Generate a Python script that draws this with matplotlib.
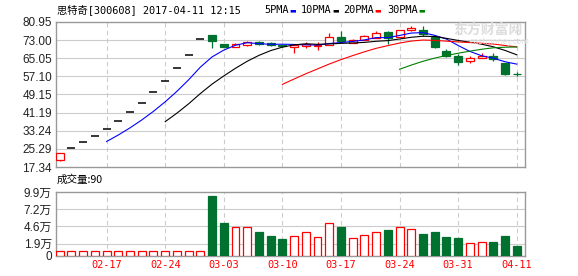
import numpy as np
import pandas as pd
from matplotlib import pyplot as plt

# trading days (2017)
days = ['02-13', '02-14', '02-15', '02-16', '02-17', '02-20', '02-21', '02-22', '02-23', '02-24',
        '02-27', '02-28', '03-01', '03-02', '03-03', '03-06', '03-07', '03-08', '03-09', '03-10',
        '03-13', '03-14', '03-15', '03-16', '03-17', '03-20', '03-21', '03-22', '03-23', '03-24',
        '03-27', '03-28', '03-29', '03-30', '03-31', '04-05', '04-06', '04-07', '04-10', '04-11']

opens = [20.20, 25.70, 28.27, 31.10, 34.21, 37.63, 41.39, 45.53, 50.08, 55.09,
         60.60, 66.66, 73.33, 75.40, 71.30, 70.00, 70.90, 72.20, 71.70, 71.00,
         70.10, 70.40, 70.45, 71.00, 74.20, 71.90, 73.20, 74.10, 76.60, 74.50,
         77.40, 77.40, 74.50, 68.40, 66.20, 63.95, 65.30, 65.90, 62.80, 58.20]
highs = [23.36, 25.70, 28.27, 31.10, 34.21, 37.63, 41.39, 45.53, 50.08, 55.09,
         60.60, 66.66, 73.33, 75.40, 71.50, 71.90, 72.75, 72.75, 72.10, 71.20,
         71.00, 72.05, 72.05, 76.00, 76.90, 73.60, 75.40, 77.10, 76.80, 77.60,
         79.30, 79.30, 74.90, 68.90, 66.90, 66.00, 67.20, 67.20, 62.80, 58.90]
lows = [19.90, 25.70, 28.27, 31.10, 34.21, 37.63, 41.39, 45.53, 50.08, 55.09,
        60.60, 66.66, 73.33, 69.55, 69.80, 70.00, 70.30, 71.00, 70.40, 70.10,
        67.30, 69.55, 68.70, 71.00, 72.05, 71.90, 73.20, 74.10, 71.30, 74.50,
        76.90, 74.90, 69.55, 65.60, 62.20, 62.80, 65.00, 64.00, 57.80, 57.40]
closes = [23.36, 25.70, 28.27, 31.10, 34.21, 37.63, 41.39, 45.53, 50.08, 55.09,
          60.60, 66.66, 73.33, 72.50, 70.00, 71.30, 72.20, 71.30, 71.00, 70.30,
          70.70, 71.30, 71.00, 74.20, 72.50, 73.05, 74.70, 76.10, 74.00, 77.40,
          78.30, 75.70, 70.10, 65.90, 63.30, 65.30, 66.20, 64.70, 58.10, 58.10]
volumes = [7500, 7500, 7500, 7500, 7500, 7500, 7500, 7500, 7500, 7500,
           7500, 7500, 7500, 92800, 51500, 44400, 44400, 37100, 31000, 26300,
           30400, 36700, 28900, 50600, 44900, 27300, 32000, 36700, 40200, 44400,
           41300, 34000, 37100, 29400, 27800, 19600, 21700, 21700, 31000, 15500]

tick_days = ['02-17', '02-24', '03-03', '03-10', '03-17', '03-24', '03-31', '04-11']
price_ticks = [17.34, 25.29, 33.24, 41.19, 49.15, 57.10, 65.05, 73.00, 80.95]
vol_ticks = [0, 19000, 46000, 72000, 99000]
vol_labels = ['0', '1.9万', '4.6万', '7.2万', '9.9万']
ma_names = ['5PMA', '10PMA', '20PMA', '30PMA']
ma_periods = [5, 10, 20, 30]
ma_colors = ['#0000ff', '#000000', '#ff0000', '#008000']

RED = '#ff0000'
GREEN = '#00712f'
GRID = '#cccccc'
EDGE = '#999999'
LBL = ['Liberation Sans', 'Noto Sans CJK SC']
MONO = ['DejaVu Sans Mono', 'Noto Sans CJK SC']

o = np.array(opens)
h = np.array(highs)
l = np.array(lows)
c = np.array(closes)
v = np.array(volumes)
x = np.arange(len(days))
up = c >= o
flat = h == l
tick_pos = [days.index(d) for d in tick_days]

fig = plt.figure(figsize=(5.78, 2.76), dpi=100)
ax = fig.add_axes([56 / 578, 1 - 167 / 276, 469 / 578, 145 / 276])
axv = fig.add_axes([56 / 578, 1 - 256 / 276, 469 / 578, 64 / 276])

for a in (ax, axv):
    a.set_xlim(-0.32, 39.71)
    for s in a.spines.values():
        s.set_color(EDGE)
        s.set_linewidth(1)
    a.set_xticks(tick_pos)
    a.tick_params(length=0, pad=3)
    for p in tick_pos:
        a.axvline(p, color=GRID, lw=0.8, ls=(0, (4, 3)), zorder=0)

# price panel
ax.set_ylim(17.34, 80.95)
ax.set_yticks(price_ticks)
ax.set_yticklabels(['%.2f' % t for t in price_ticks], family=LBL, fontsize=8.5, color='#222222')
ax.set_xticklabels([])
for t in price_ticks[1:-1]:
    ax.axhline(t, color=GRID, lw=0.8, zorder=0)

w = 0.68
body_col = [RED if u else GREEN for u in up]
face_col = ['white' if u else GREEN for u in up]
nf = ~flat
ax.vlines(x[nf], l[nf], h[nf], color=np.array(body_col)[nf], lw=0.9, zorder=2)
ax.bar(x[nf], np.abs(c - o)[nf], bottom=np.minimum(o, c)[nf], width=w,
       color=np.array(face_col)[nf], edgecolor=np.array(body_col)[nf], lw=0.9, zorder=3)
ax.hlines(c[flat], x[flat] - w / 2, x[flat] + w / 2, color='black', lw=1.1, zorder=3)

for n, col in zip(ma_periods, ma_colors):
    ma = pd.Series(c).rolling(n).mean()
    ax.plot(x, ma, color=col, lw=0.8, zorder=4)

# watermark
fig.text(453 / 578, 1 - 30 / 276, '东方财富网', family='Noto Sans CJK SC', fontsize=10,
         fontweight='bold', color='#dddddd', va='center', ha='left', zorder=0)
fig.text(470 / 578, 1 - 42 / 276, 'eastmoney.com', family='DejaVu Sans', fontsize=5.5,
         color='#e2e2e2', va='center', ha='left', zorder=0)

# volume panel
axv.set_ylim(0, 99000)
axv.set_yticks(vol_ticks)
axv.set_yticklabels(vol_labels, family=LBL, fontsize=8.5, color='#222222')
for t in vol_ticks[1:-1]:
    axv.axhline(t, color=GRID, lw=0.8, zorder=0)
axv.bar(x, v, width=w, color=['white' if u else GREEN for u in up],
        edgecolor=[RED if u else GREEN for u in up], lw=0.9, zorder=3)
axv.set_xticklabels(tick_days, family=MONO, fontsize=7.4, color=RED)

# header
fig.text(57 / 578, 1 - 10 / 276, '思特奇[300608] 2017-04-11 12:15', family=MONO,
         fontsize=7.4, va='center', ha='left')
leg_x = [264, 301, 343, 387]
for name, col, lx in zip(ma_names, ma_colors, leg_x):
    t = fig.text(lx / 578, 1 - 10 / 276, name, family=MONO, fontsize=7.4, va='center', ha='left')
    fig.text((lx + len(name) * 5.9 + 2) / 578, 1 - 10 / 276, '▬', family='DejaVu Sans',
             fontsize=5, color=col, va='center', ha='left')

fig.text(57 / 578, 1 - 180 / 276, '成交量:90', family=['Noto Sans CJK SC', 'DejaVu Sans'],
         fontsize=7.6, va='center', ha='left')

fig.savefig('out.png', dpi=100)
